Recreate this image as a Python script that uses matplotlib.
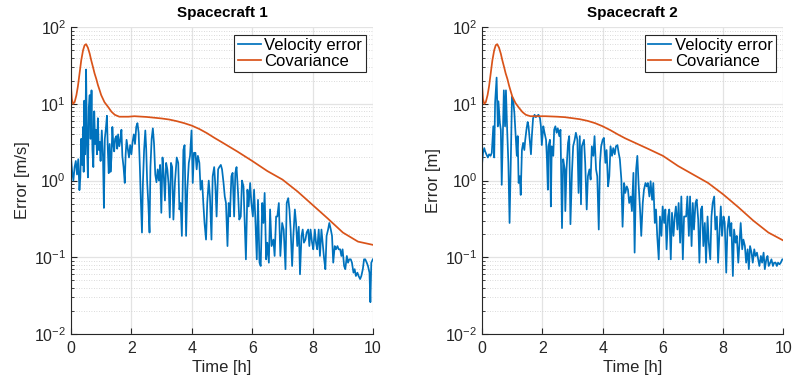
import numpy as np
import matplotlib.pyplot as plt
from matplotlib.ticker import LogLocator, NullFormatter

plt.rcParams['font.family'] = ['Liberation Sans', 'DejaVu Sans']
plt.rcParams['mathtext.fontset'] = 'custom'
plt.rcParams['mathtext.rm'] = 'Liberation Sans'

# ===== Data =====
titles = ["Spacecraft 1", "Spacecraft 2"]
ylabels = ["Error [m/s]", "Error [m]"]
legend_labels = ["Velocity error", "Covariance"]

t1 = [0.00, 0.04, 0.08, 0.12, 0.16, 0.20, 0.24, 0.28, 0.31, 0.34, 0.37, 0.40, 0.42, 0.44, 0.47, 0.50,
      0.53, 0.56, 0.59, 0.62, 0.65, 0.68, 0.71, 0.74, 0.77, 0.80, 0.83, 0.86, 0.89, 0.92, 0.95, 0.98,
      1.02, 1.06, 1.09, 1.12, 1.16, 1.19, 1.22, 1.25, 1.28, 1.31, 1.34, 1.37, 1.40, 1.43, 1.46, 1.50,
      1.53, 1.56, 1.60, 1.64, 1.67, 1.70, 1.74, 1.78, 1.81, 1.84, 1.88, 1.92, 1.96, 2.00, 2.04, 2.08,
      2.12, 2.16, 2.20, 2.24, 2.28, 2.31, 2.35, 2.38, 2.42, 2.46, 2.49, 2.52, 2.56, 2.60, 2.63, 2.67,
      2.71, 2.75, 2.79, 2.83, 2.87, 2.91, 2.95, 2.99, 3.03, 3.07, 3.11, 3.15, 3.19, 3.23, 3.27, 3.31,
      3.35, 3.39, 3.44, 3.50, 3.55, 3.59, 3.63, 3.67, 3.72, 3.76, 3.81, 3.85, 3.90, 3.94, 3.99, 4.03,
      4.07, 4.12, 4.16, 4.20, 4.25, 4.29, 4.34, 4.38, 4.42, 4.47, 4.51, 4.56, 4.60, 4.65, 4.69, 4.74,
      4.78, 4.82, 4.87, 4.91, 4.96, 5.00, 5.05, 5.09, 5.13, 5.18, 5.22, 5.26, 5.31, 5.35, 5.40, 5.44,
      5.48, 5.53, 5.57, 5.62, 5.66, 5.71, 5.75, 5.79, 5.84, 5.88, 5.93, 5.97, 6.02, 6.06, 6.10, 6.15,
      6.19, 6.24, 6.28, 6.33, 6.37, 6.41, 6.46, 6.50, 6.55, 6.59, 6.64, 6.70, 6.74, 6.79, 6.83, 6.88,
      6.93, 6.99, 7.04, 7.10, 7.14, 7.19, 7.23, 7.27, 7.32, 7.36, 7.41, 7.45, 7.49, 7.54, 7.58, 7.63,
      7.67, 7.71, 7.76, 7.80, 7.85, 7.89, 7.93, 7.98, 8.02, 8.07, 8.11, 8.15, 8.20, 8.24, 8.29, 8.33,
      8.38, 8.42, 8.46, 8.51, 8.55, 8.60, 8.64, 8.68, 8.73, 8.77, 8.82, 8.86, 8.91, 8.95, 8.99, 9.04,
      9.08, 9.13, 9.17, 9.21, 9.26, 9.30, 9.35, 9.39, 9.43, 9.48, 9.52, 9.57, 9.61, 9.66, 9.70, 9.74,
      9.79, 9.83, 9.88, 9.91, 9.94, 9.99]
err1 = [2.0, 1.3, 1.0, 1.5, 1.8, 1.2, 1.9, 0.75, 1.1, 3.5, 1.6, 5.0, 1.3, 11, 2.2, 28,
        3.0, 1.1, 9.0, 13, 3.5, 15, 2.5, 1.5, 8.0, 3.0, 4.6, 2.2, 6.5, 2.5, 3.2, 1.8,
        4.5, 2.0, 0.44, 3.5, 5.0, 7.0, 2.5, 1.25, 3.0, 1.3, 2.0, 5.0, 3.0, 2.4, 3.5, 3.8,
        2.6, 4.0, 2.8, 3.5, 4.6, 2.1, 1.5, 0.93, 2.2, 3.4, 2.6, 2.0, 2.9, 2.2, 3.2, 4.0,
        3.0, 5.0, 5.6, 4.2, 1.5, 0.60, 0.21, 0.90, 2.5, 4.5, 2.6, 1.0, 0.50, 0.21, 1.5, 3.5,
        4.8, 3.0, 1.2, 0.95, 1.4, 1.0, 1.6, 0.38, 2.0, 1.2, 0.55, 1.7, 1.4, 0.90, 0.33, 1.7,
        1.5, 0.31, 0.93, 2.0, 1.7, 0.42, 0.51, 0.19, 2.5, 2.9, 0.19, 0.76, 1.7, 2.1, 4.5, 0.93,
        2.3, 2.3, 1.4, 2.1, 1.7, 0.76, 1.0, 0.51, 0.28, 0.17, 0.51, 1.0, 0.62, 0.17, 1.14, 1.5,
        0.84, 0.34, 1.4, 1.5, 1.6, 1.4, 0.93, 0.62, 0.51, 0.14, 0.51, 0.34, 1.14, 1.26, 0.34, 1.26,
        1.5, 0.69, 0.31, 0.34, 1.0, 0.84, 0.28, 0.094, 0.76, 0.46, 0.93, 0.51, 0.34, 0.76, 0.34, 0.094,
        0.56, 0.085, 0.077, 0.51, 0.28, 0.69, 0.094, 0.155, 0.085, 0.42, 0.14, 0.17, 0.104, 0.34, 0.34, 0.51,
        0.104, 0.28, 0.23, 0.07, 0.51, 0.59, 0.42, 0.23, 0.077, 0.19, 0.42, 0.28, 0.14, 0.25, 0.06, 0.19,
        0.23, 0.155, 0.17, 0.21, 0.23, 0.14, 0.23, 0.155, 0.127, 0.23, 0.155, 0.127, 0.23, 0.104, 0.23, 0.155,
        0.094, 0.07, 0.19, 0.23, 0.28, 0.23, 0.19, 0.085, 0.14, 0.127, 0.14, 0.127, 0.127, 0.104, 0.127, 0.077,
        0.07, 0.104, 0.085, 0.094, 0.094, 0.085, 0.063, 0.07, 0.057, 0.063, 0.057, 0.052, 0.057, 0.07, 0.094, 0.094,
        0.085, 0.077, 0.063, 0.026, 0.085, 0.094]

t2 = [0.00, 0.03, 0.07, 0.10, 0.14, 0.19, 0.23, 0.28, 0.32, 0.37, 0.40, 0.43, 0.48, 0.52, 0.54, 0.59,
      0.62, 0.65, 0.70, 0.72, 0.76, 0.79, 0.83, 0.87, 0.91, 0.95, 0.99, 1.03, 1.07, 1.12, 1.15, 1.18,
      1.21, 1.25, 1.28, 1.32, 1.36, 1.40, 1.43, 1.47, 1.51, 1.54, 1.58, 1.62, 1.65, 1.69, 1.74, 1.78,
      1.83, 1.87, 1.92, 1.95, 1.98, 2.03, 2.07, 2.12, 2.15, 2.18, 2.20, 2.25, 2.28, 2.31, 2.36, 2.39,
      2.43, 2.47, 2.51, 2.56, 2.60, 2.65, 2.69, 2.74, 2.76, 2.80, 2.85, 2.89, 2.93, 2.98, 3.02, 3.07,
      3.11, 3.16, 3.20, 3.24, 3.28, 3.31, 3.38, 3.42, 3.47, 3.51, 3.56, 3.60, 3.64, 3.69, 3.73, 3.78,
      3.82, 3.87, 3.91, 3.95, 4.00, 4.04, 4.09, 4.13, 4.18, 4.22, 4.26, 4.31, 4.35, 4.40, 4.44, 4.49,
      4.53, 4.57, 4.62, 4.66, 4.71, 4.75, 4.80, 4.84, 4.88, 4.93, 4.97, 5.02, 5.06, 5.11, 5.15, 5.19,
      5.24, 5.28, 5.33, 5.37, 5.42, 5.46, 5.50, 5.55, 5.59, 5.64, 5.68, 5.73, 5.77, 5.81, 5.86, 5.90,
      5.95, 5.99, 6.04, 6.08, 6.12, 6.17, 6.21, 6.26, 6.30, 6.35, 6.39, 6.43, 6.48, 6.52, 6.57, 6.61,
      6.66, 6.70, 6.77, 6.81, 6.86, 6.90, 6.95, 6.99, 7.03, 7.08, 7.12, 7.17, 7.21, 7.26, 7.30, 7.34,
      7.39, 7.43, 7.48, 7.52, 7.57, 7.61, 7.65, 7.70, 7.74, 7.79, 7.83, 7.88, 7.92, 7.96, 8.01, 8.05,
      8.10, 8.14, 8.19, 8.23, 8.27, 8.32, 8.36, 8.41, 8.45, 8.50, 8.54, 8.58, 8.63, 8.67, 8.72, 8.76,
      8.81, 8.85, 8.89, 8.94, 8.98, 9.03, 9.07, 9.12, 9.16, 9.20, 9.25, 9.29, 9.34, 9.38, 9.43, 9.47,
      9.51, 9.56, 9.60, 9.65, 9.69, 9.74, 9.78, 9.82, 9.87, 9.91, 9.96, 10.0]
err2 = [1.7, 2.3, 2.65, 2.4, 2.2, 2.0, 2.2, 2.1, 2.3, 5.1, 2.0, 10.4, 22, 5.1, 10.8, 5.6,
        4.6, 0.88, 6.8, 15, 5.1, 15, 4.6, 1.7, 0.28, 1.7, 12.4, 11.2, 7.6, 3.4, 2.1, 3.8,
        0.93, 1.14, 0.65, 2.5, 3.1, 2.5, 3.4, 4.6, 5.8, 5.1, 3.4, 2.2, 3.8, 6.5, 7.2, 6.7,
        7.0, 7.2, 6.5, 5.1, 2.9, 5.1, 4.2, 3.4, 1.9, 0.76, 2.8, 3.4, 0.46, 2.8, 2.1, 4.6,
        5.1, 4.2, 4.8, 3.8, 4.6, 0.24, 1.9, 1.4, 0.40, 1.4, 3.1, 3.8, 0.27, 1.26, 2.8, 3.4,
        4.2, 3.4, 0.69, 3.8, 0.49, 2.8, 3.4, 1.7, 0.42, 1.14, 1.4, 1.03, 2.8, 2.1, 3.8, 1.4,
        1.14, 0.23, 1.7, 2.8, 3.4, 3.6, 1.7, 2.5, 0.84, 1.14, 2.8, 2.1, 2.65, 2.2, 2.8, 2.9,
        2.3, 1.9, 1.03, 0.25, 0.93, 0.69, 0.84, 0.76, 0.51, 0.62, 0.40, 1.26, 0.115, 1.4, 2.1, 0.93,
        0.42, 0.19, 0.51, 0.76, 0.93, 0.84, 0.93, 0.62, 0.98, 0.56, 0.93, 0.28, 0.42, 0.19, 0.094, 0.34,
        0.19, 0.46, 0.28, 0.42, 0.127, 0.34, 0.42, 0.094, 0.38, 0.19, 0.34, 0.46, 0.23, 0.51, 0.155, 0.62,
        0.094, 0.34, 0.34, 0.62, 0.19, 0.62, 0.14, 0.51, 0.23, 0.51, 0.565, 0.31, 0.085, 0.42, 0.46, 0.14,
        0.28, 0.085, 0.34, 0.155, 0.094, 0.34, 0.51, 0.62, 0.23, 0.34, 0.085, 0.23, 0.46, 0.19, 0.34, 0.28,
        0.063, 0.23, 0.34, 0.19, 0.28, 0.057, 0.23, 0.155, 0.19, 0.085, 0.155, 0.28, 0.127, 0.17, 0.14, 0.085,
        0.127, 0.07, 0.14, 0.115, 0.085, 0.127, 0.104, 0.115, 0.094, 0.077, 0.104, 0.085, 0.115, 0.07, 0.094, 0.104,
        0.077, 0.085, 0.094, 0.077, 0.085, 0.085, 0.077, 0.085, 0.081, 0.085, 0.094, 0.094]

cov_t = [0, 0.03, 0.07, 0.12, 0.18, 0.23, 0.29, 0.34, 0.40, 0.45, 0.50, 0.56, 0.62, 0.67, 0.73,
         0.78, 0.84, 0.89, 0.95, 1.0, 1.11, 1.23, 1.34, 1.45, 1.6, 1.9, 2.1, 2.5, 2.75, 3.0, 3.25,
         3.5, 3.75, 4.0, 4.25, 4.5, 4.75, 5.0, 5.5, 6.0, 6.5, 7.0, 7.5, 8.0, 8.5, 9.0, 9.5, 10.0]
cov1 = [17, 11.5, 10, 10.5, 13, 17, 26, 37, 50, 58, 60, 54, 45, 37, 30, 25, 21, 17.7, 15, 13,
        10.5, 9.1, 7.9, 7.2, 6.8, 6.8, 6.9, 6.75, 6.6, 6.45, 6.25, 5.95, 5.6, 5.2, 4.7, 4.15, 3.6,
        3.15, 2.4, 1.8, 1.33, 1.03, 0.72, 0.48, 0.32, 0.21, 0.16, 0.145]
cov2 = [17, 11.5, 10, 10.5, 13, 17, 26, 37, 50, 58, 60, 54, 45, 37, 30, 25, 21, 17.5, 14.5, 12.5,
        10.2, 8.8, 7.8, 7.2, 6.9, 6.9, 6.9, 6.8, 6.7, 6.5, 6.3, 6.0, 5.6, 5.1, 4.55, 4.0, 3.55,
        3.2, 2.6, 2.1, 1.55, 1.2, 0.93, 0.66, 0.45, 0.30, 0.21, 0.165]

# ===== Figure =====
fig = plt.figure(figsize=(7.93, 3.85), dpi=100)
positions = [[0.0895, 0.1325, 0.381, 0.797], [0.608, 0.1325, 0.380, 0.797]]
series = [(t1, err1, cov1), (t2, err2, cov2)]

for pos, (t, err, cov), title, ylab in zip(positions, series, titles, ylabels):
    ax = fig.add_axes(pos)
    ax.plot(t, err, color='#0072BD', lw=1.25, label=legend_labels[0])
    ax.plot(cov_t, cov, color='#D95319', lw=1.25, label=legend_labels[1])
    ax.set_yscale('log')
    ax.set_xlim(0, 10)
    ax.set_ylim(1e-2, 1e2)
    ax.set_xticks([0, 2, 4, 6, 8, 10])
    ax.yaxis.set_major_locator(LogLocator(base=10, numticks=10))
    ax.yaxis.set_minor_locator(LogLocator(base=10, subs=np.arange(2, 10), numticks=20))
    ax.yaxis.set_minor_formatter(NullFormatter())
    ax.grid(which='major', color='#e3e3e3', lw=0.9)
    ax.grid(which='minor', axis='y', color='#cfcfcf', ls=(0, (1, 2)), lw=0.6)
    ax.set_axisbelow(True)
    for s in ['top', 'right']:
        ax.spines[s].set_visible(False)
    for s in ['left', 'bottom']:
        ax.spines[s].set_color('#262626')
        ax.spines[s].set_linewidth(0.8)
    ax.tick_params(which='both', direction='in', colors='#262626', labelsize=11.5)
    ax.tick_params(which='major', length=4)
    ax.tick_params(axis='x', pad=5)
    ax.tick_params(which='minor', length=2)
    ax.set_title(title, fontsize=11, fontweight='bold', pad=7)
    ax.set_xlabel("Time [h]", fontsize=12, color='#262626', labelpad=3)
    ax.set_ylabel(ylab, fontsize=12, color='#262626', labelpad=3)
    leg = ax.legend(loc='upper right', fontsize=12, fancybox=False, framealpha=1,
                    edgecolor='#262626', handlelength=1.4, borderpad=0.2,
                    labelspacing=0.05, handletextpad=0.2, borderaxespad=0.45)
    leg.get_frame().set_linewidth(0.8)

plt.savefig("out.png", dpi=100)
